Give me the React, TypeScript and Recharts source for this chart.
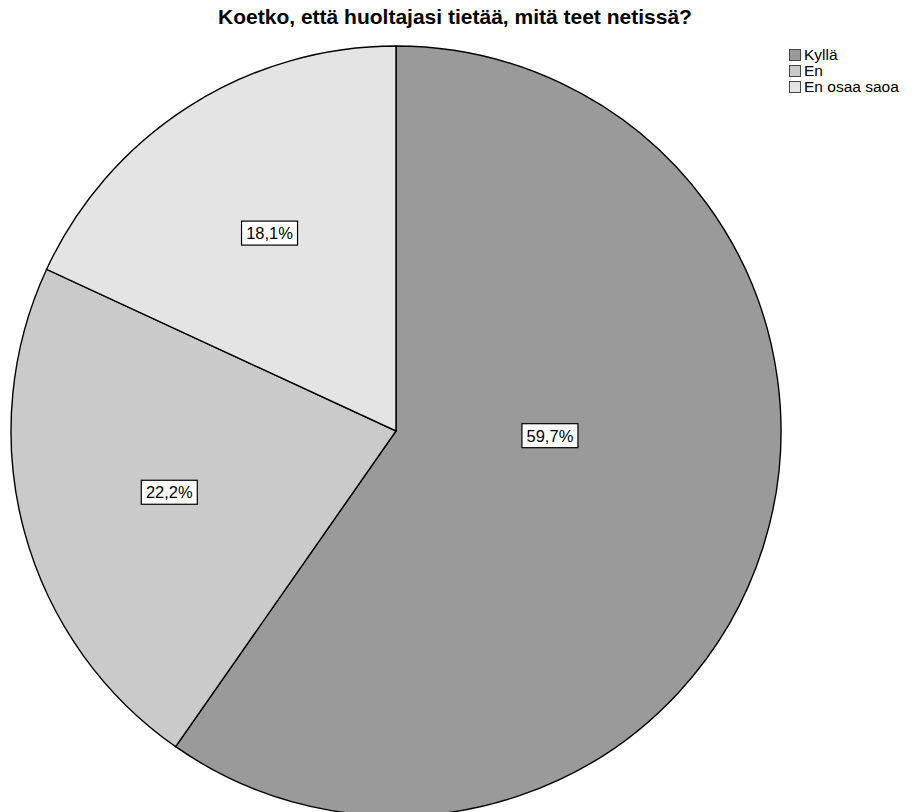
import { PieChart, Pie, Cell } from 'recharts'

const categories = ['Kyllä', 'En', 'En osaa saoa']
const shares = [59.7, 22.2, 18.1]
const colors = ['#9a9a9a', '#cacaca', '#e4e4e4']

const data = categories.map((name, i) => ({ name, value: shares[i] }))

const RAD = Math.PI / 180
const FONT = "Arial, 'Liberation Sans', sans-serif"

const renderLabel = ({ cx, cy, midAngle, outerRadius, percent }: any) => {
  // the big slice gets its label nearer the centre, pulled toward the horizontal
  const big = percent > 0.5
  const r = big ? outerRadius * 0.4 : outerRadius * 0.61
  const a = big ? midAngle * 0.1 : midAngle
  const x = cx + r * Math.cos(-a * RAD)
  const y = cy + r * Math.sin(-a * RAD)
  const text = (percent * 100).toFixed(1).replace('.', ',') + '%'
  const w = 56
  const h = 24
  return (
    <g>
      <rect x={x - w / 2} y={y - h / 2} width={w} height={h} fill="#fff" stroke="#000" strokeWidth={1.2} />
      <text x={x} y={y + 6} textAnchor="middle" fontSize={16.5} fontFamily={FONT} fill="#000">
        {text}
      </text>
    </g>
  )
}

export default function App() {
  return (
    <div style={{ position: 'absolute', left: 0, top: 0, width: 918, height: 812, background: '#fff', overflow: 'hidden', fontFamily: FONT }}>
      <div style={{ position: 'absolute', left: 0, top: 5, width: 910, textAlign: 'center', fontSize: 21, fontWeight: 'bold', color: '#000' }}>
        Koetko, että huoltajasi tietää, mitä teet netissä?
      </div>
      <PieChart width={918} height={830} margin={{ top: 0, right: 0, bottom: 0, left: 0 }}>
        <Pie
          data={data}
          dataKey="value"
          nameKey="name"
          cx={396}
          cy={431}
          outerRadius={385}
          startAngle={90}
          endAngle={-270}
          stroke="#000"
          strokeWidth={1.4}
          labelLine={false}
          label={renderLabel}
          isAnimationActive={false}
        >
          {data.map((entry, index) => (
            <Cell key={`cell-${index}`} fill={colors[index]} />
          ))}
        </Pie>
      </PieChart>
      <div style={{ position: 'absolute', left: 789, top: 47 }}>
        {categories.map((c, i) => (
          <div key={c} style={{ display: 'flex', alignItems: 'center', height: 16, fontSize: 15.5, color: '#000' }}>
            <span style={{ display: 'inline-block', width: 10, height: 10, background: colors[i], border: '1px solid #444', marginRight: 3 }} />
            {c}
          </div>
        ))}
      </div>
    </div>
  )
}
